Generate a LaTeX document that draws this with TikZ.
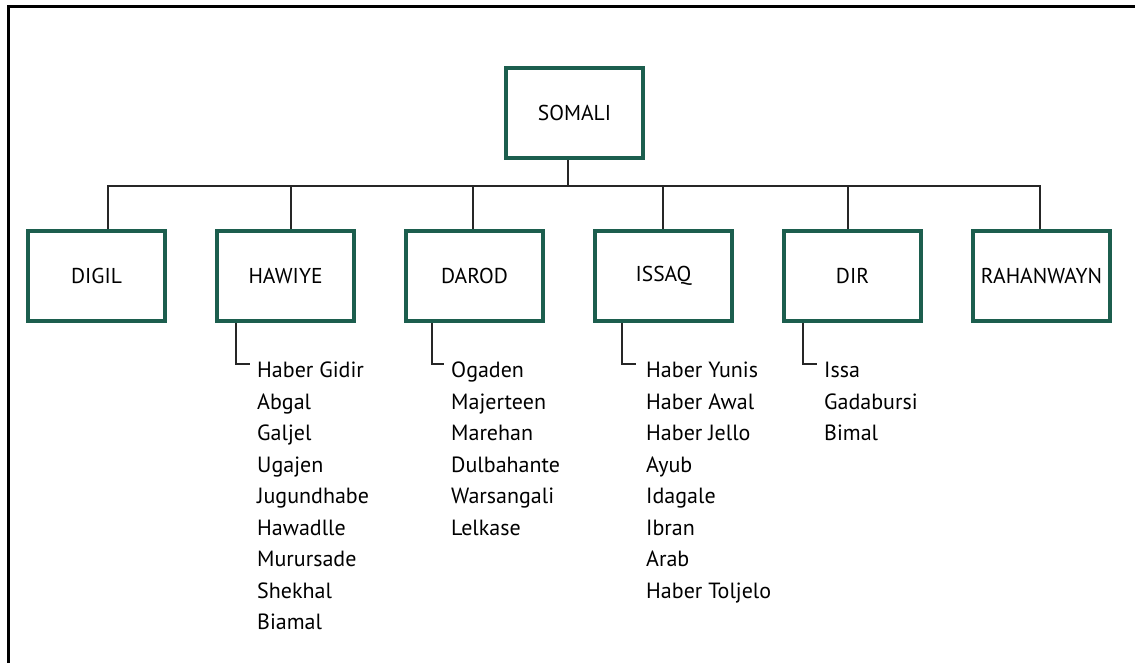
\documentclass[tikz,border=0pt]{standalone}
\usepackage{fontspec}
\setmainfont{PT Sans}
\usetikzlibrary{positioning}
\definecolor{clangreen}{RGB}{28,94,78}
\newcommand{\clan}[3]{%
 \node[clanbox] ({#1}) at ({#2}) {#3};%
}
\newcommand{\subclans}[3]{%
 \node[clanlist] ({#1}) at ({#2}) {#3};%
}

\begin{document}
\begin{tikzpicture}[x=1pt,y=-1pt,
  clanbox/.style={draw=clangreen,line width=4pt,minimum width=137pt,minimum height=90pt,
    inner sep=0pt,font=\fontsize{21.5}{24}\selectfont},
  clanlist/.style={anchor=north west,align=left,inner sep=0pt,
    font=\fontsize{22}{31.5}\selectfont},
  link/.style={draw=black!85,line width=1.3pt}]
  \useasboundingbox (0,0) rectangle (1135,663);
  \draw[line width=3pt] (8,663) -- (8,7) -- (1135,7);
  % top of the tree
  \clan{somali}{574.5,113}{SOMALI};
  \coordinate (bus) at (568,186);
  % clan families
  \clan{digil}{96.5,276}{DIGIL};
  \clan{hawiye}{285.5,276}{HAWIYE};
  \clan{darod}{474.5,276}{DAROD};
  \clan{issaq}{663.5,276}{ISSAQ};
  \clan{dir}{852.5,276}{DIR};
  \clan{rahanwayn}{1041.5,276}{RAHANWAYN};
  % sub-clans
  \subclans{hawiyeL}{257,362}{Haber Gidir\\Abgal\\Galjel\\Ugajen\\Jugundhabe\\Hawadlle\\Murursade\\Shekhal\\Biamal};
  \subclans{darodL}{451,362}{Ogaden\\Majerteen\\Marehan\\Dulbahante\\Warsangali\\Lelkase};
  \subclans{issaqL}{646,362}{Haber Yunis\\Haber Awal\\Haber Jello\\Ayub\\Idagale\\Ibran\\Arab\\Haber Toljelo};
  \subclans{dirL}{824,362}{Issa\\Gadabursi\\Bimal};
  % connectors
  \draw[link] ([xshift=-6.5]somali.south) -- (bus);
  \draw[link] (bus) -| ([xshift=11.5]digil.north);
  \draw[link] (bus) -| ([xshift=5.5]hawiye.north);
  \draw[link] (bus) -| ([xshift=-1.5]darod.north);
  \draw[link] (bus) -| ([xshift=-0.5]issaq.north);
  \draw[link] (bus) -| ([xshift=-4.5]dir.north);
  \draw[link] (bus) -| ([xshift=-1.5]rahanwayn.north);
  \draw[link] ([xshift=21]hawiye.south west) |- ([xshift=-7,yshift=-2]hawiyeL.north west);
  \draw[link] ([xshift=28]darod.south west) |- ([xshift=-7,yshift=-2]darodL.north west);
  \draw[link] ([xshift=29]issaq.south west) |- ([xshift=-10,yshift=-2]issaqL.north west);
  \draw[link] ([xshift=21]dir.south west) |- ([xshift=-7,yshift=-2]dirL.north west);
\end{tikzpicture}
\end{document}
